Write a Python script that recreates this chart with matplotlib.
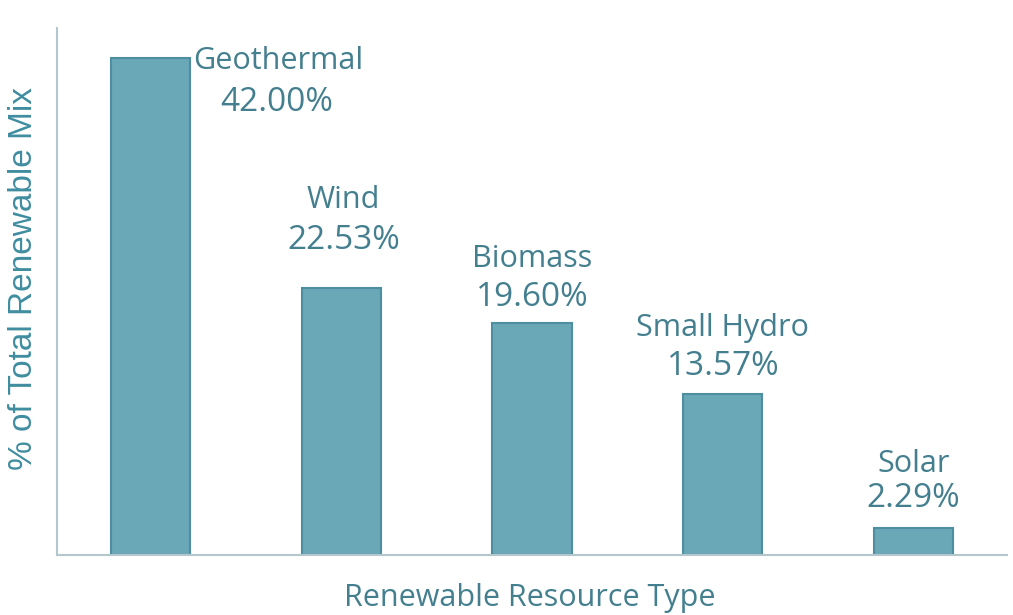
import matplotlib
matplotlib.use("Agg")
import matplotlib.pyplot as plt

categories = ["Geothermal", "Wind", "Biomass", "Small Hydro", "Solar"]
values = [42.00, 22.53, 19.60, 13.57, 2.29]
value_labels = ["42.00%", "22.53%", "19.60%", "13.57%", "2.29%"]

# label offsets in pixels (dx, dy above bar top), layout only
name_offsets = [(128, -3), (2, 88), (0, 64), (0, 66), (0, 64)]
value_offsets = [(126, -44), (2, 48), (0, 26), (0, 28), (0, 29)]

plt.rcParams['font.family'] = ['Open Sans', 'DejaVu Sans']
text_color = "#437f8e"
bar_color = "#6aa8b8"
edge_color = "#4d8fa1"
spine_color = "#b3c7cc"

fig = plt.figure(figsize=(10.13, 6.15), dpi=100)
ax = fig.add_axes([0.0563, 0.0976, 0.9378, 0.857])
x = list(range(len(categories)))
ax.bar(x, values, width=0.415, color=bar_color, edgecolor=edge_color, linewidth=1.5)
ax.set_xlim(-0.49, 4.49)
ax.set_ylim(0, 44.55)

px = 72 / 100.0
for i, (v, name, vl) in enumerate(zip(values, categories, value_labels)):
    ax.annotate(name, (i, v), xytext=(name_offsets[i][0] * px, name_offsets[i][1] * px),
                textcoords="offset points", ha="center", va="center",
                fontsize=22, color=text_color)
    ax.annotate(vl, (i, v), xytext=(value_offsets[i][0] * px, value_offsets[i][1] * px),
                textcoords="offset points", ha="center", va="center",
                fontsize=24, color=text_color)

for s in ["top", "right"]:
    ax.spines[s].set_visible(False)
for s in ["left", "bottom"]:
    ax.spines[s].set_color(spine_color)
    ax.spines[s].set_linewidth(1.5)
ax.set_xticks([])
ax.set_yticks([])

fig.text(24 / 1013, 1 - 278 / 615, "% of Total Renewable Mix", rotation=90,
         ha="center", va="center", fontsize=24, color="#3f8da0",
         family=['Liberation Sans', 'DejaVu Sans'])
fig.text(530 / 1013, 1 - 598 / 615, "Renewable Resource Type",
         ha="center", va="center", fontsize=22, color=text_color)

fig.savefig("out.png", dpi=100)
